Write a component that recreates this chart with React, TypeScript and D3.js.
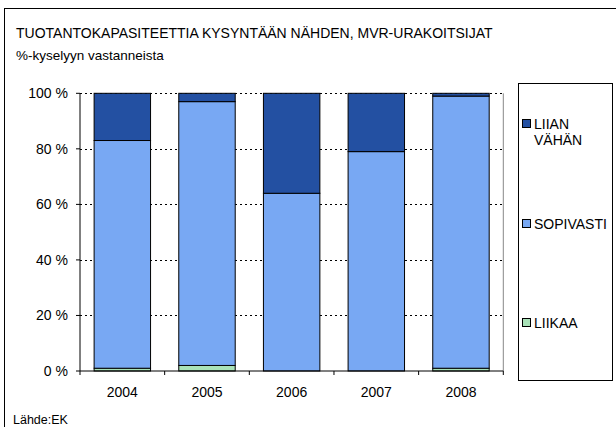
import React from 'react';
import * as d3 from 'd3';

// survey shares, % of respondents
const years = ['2004', '2005', '2006', '2007', '2008'];
const liikaa = [1, 2, 0, 0, 1];
const sopivasti = [82, 95, 64, 79, 98];
const liianVahan = [17, 3, 36, 21, 1];
const yTicks = [0, 20, 40, 60, 80, 100];

const seriesNames = ['LIIKAA', 'SOPIVASTI', 'LIIAN VÄHÄN'];
const colors = ['#A9E2B8', '#78A8F3', '#2350A2'];

const W = 616;
const H = 427;
const plot = { left: 80, right: 503.3, top: 93.3, bottom: 371 };
const font = 'Liberation Sans, Arial, sans-serif';

export default function App() {
  const rows = years.map((y, i) => ({
    year: y,
    LIIKAA: liikaa[i],
    SOPIVASTI: sopivasti[i],
    'LIIAN VÄHÄN': liianVahan[i],
  }));
  const stacked = d3.stack<any>().keys(seriesNames)(rows);

  const x = d3
    .scaleBand()
    .domain(years)
    .range([plot.left, plot.right])
    .paddingInner(1 / 3)
    .paddingOuter(1 / 6);
  const y = d3.scaleLinear().domain([0, 100]).range([plot.bottom, plot.top]);
  const step = x.step();

  return (
    <svg width={W} height={H} style={{ position: 'absolute', left: 0, top: 0 }} fontFamily={font}>
      <rect x={0} y={0} width={W} height={H} fill="#fff" />
      {/* outer frame */}
      <rect x={4.5} y={8.5} width={W + 10} height={H + 10} fill="none" stroke="#000" strokeWidth={1} />

      <text x={16} y={38} fontSize={14} fill="#000">
        TUOTANTOKAPASITEETTIA KYSYNTÄÄN NÄHDEN, MVR-URAKOITSIJAT
      </text>
      <text x={16} y={60} fontSize={13.5} fill="#000">
        %-kyselyyn vastanneista
      </text>

      {/* gridlines */}
      {yTicks.filter((t) => t > 0).map((t) => (
        <line
          key={t}
          x1={plot.left}
          x2={plot.right}
          y1={Math.round(y(t)) + 0.5}
          y2={Math.round(y(t)) + 0.5}
          stroke="#000"
          strokeDasharray="2,3"
        />
      ))}
      <line x1={plot.right} x2={plot.right} y1={plot.top} y2={plot.bottom} stroke="#888" />

      {/* bars */}
      {stacked.map((s, si) => (
        <g key={s.key}>
          {s.map((d, i) =>
            d[1] - d[0] > 0 ? (
              <rect
                key={i}
                x={x(years[i])}
                y={y(d[1])}
                width={x.bandwidth()}
                height={y(d[0]) - y(d[1])}
                fill={colors[si]}
                stroke="#000"
                strokeWidth={1}
              />
            ) : null
          )}
        </g>
      ))}

      {/* y axis */}
      <line x1={plot.left} x2={plot.left} y1={plot.top} y2={plot.bottom} stroke="#000" />
      {yTicks.map((t) => (
        <g key={t}>
          <line x1={plot.left - 4} x2={plot.left} y1={y(t)} y2={y(t)} stroke="#000" />
          <text x={68} y={y(t) + 5} fontSize={14} textAnchor="end" fill="#000">
            {t} %
          </text>
        </g>
      ))}

      {/* x axis */}
      <line x1={plot.left} x2={plot.right} y1={plot.bottom} y2={plot.bottom} stroke="#000" />
      {d3.range(years.length + 1).map((i) => (
        <line
          key={i}
          x1={plot.left + i * step}
          x2={plot.left + i * step}
          y1={plot.bottom}
          y2={plot.bottom + 4}
          stroke="#000"
        />
      ))}
      {years.map((yr) => (
        <text key={yr} x={x(yr)! + x.bandwidth() / 2} y={397} fontSize={14} textAnchor="middle" fill="#000">
          {yr}
        </text>
      ))}

      {/* legend */}
      <rect x={518.5} y={83.5} width={94} height={297} fill="#fff" stroke="#000" />
      {[
        { i: 2, lines: ['LIIAN', 'VÄHÄN'], yb: 129 },
        { i: 1, lines: ['SOPIVASTI'], yb: 229 },
        { i: 0, lines: ['LIIKAA'], yb: 328 },
      ].map((it) => (
        <g key={it.i}>
          <rect x={522.5} y={it.yb - 9.5} width={8} height={8} fill={colors[it.i]} stroke="#000" />
          {it.lines.map((l, k) => (
            <text key={k} x={534} y={it.yb + k * 16} fontSize={14} fill="#000">
              {l}
            </text>
          ))}
        </g>
      ))}

      <text x={13} y={424} fontSize={12.5} fill="#000">
        Lähde:EK
      </text>
    </svg>
  );
}
